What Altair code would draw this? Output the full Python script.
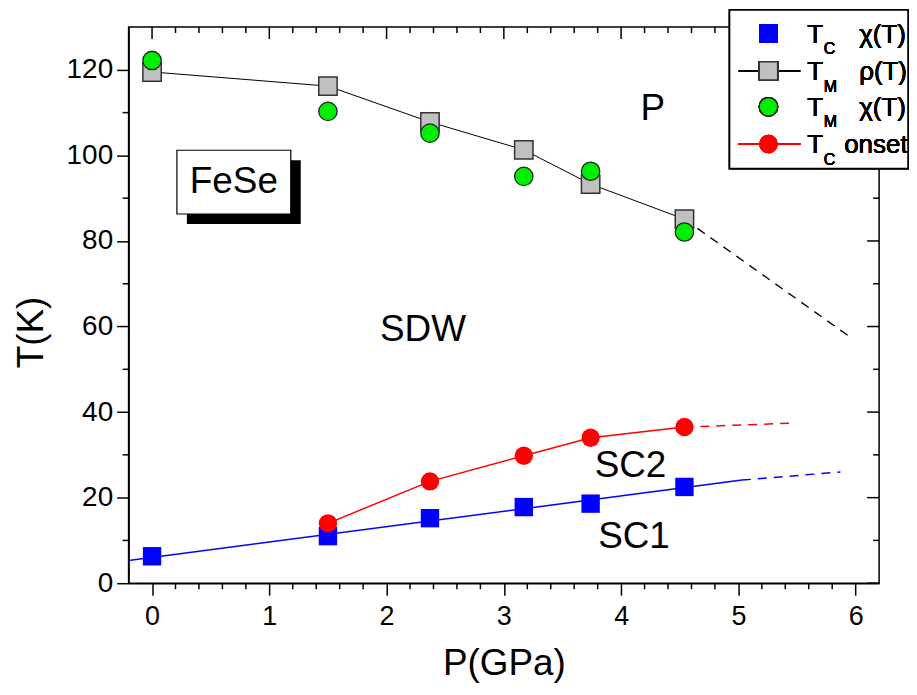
import altair as alt
import pandas as pd

FONT = "Liberation Sans"

# ---------------- data ----------------
# T_M from rho(T): grey squares + black line
P_M = [0.0, 1.50, 2.37, 3.17, 3.74, 4.54]
TM_rho = [119.5, 116.2, 107.8, 101.3, 93.3, 85.1]
# T_M from chi(T): green circles
TM_chi = [122.2, 110.3, 105.2, 95.1, 96.3, 82.1]
# dashed extrapolation of T_M
TM_ext_P = [4.54, 5.98]
TM_ext_T = [85.1, 57.0]

# T_C from chi(T): blue squares
P_TC = [0.0, 1.50, 2.37, 3.17, 3.74, 4.54]
TC_chi = [6.3, 11.0, 15.2, 17.8, 18.6, 22.5]
# blue guide line (solid + dashed)
TC_fit_P = [-0.2, 5.03]
TC_fit_T = [5.3, 24.1]
TC_fit_ext_P = [5.03, 5.87]
TC_fit_ext_T = [24.1, 26.0]

# T_C onset: red circles
P_on = [1.50, 2.37, 3.17, 3.74, 4.54]
TC_onset = [14.0, 23.8, 29.8, 34.0, 36.5]
TC_on_ext_P = [4.54, 5.44]
TC_on_ext_T = [36.5, 37.4]

# region labels
region_labels = ["P", "SDW", "SC2", "SC1"]
region_P = [4.27, 2.31, 4.08, 4.11]
region_T = [110.9, 59.2, 27.4, 10.9]

# FeSe label box (data units)
fese_P = [0.212, 1.183]
fese_T = [86.3, 101.2]

# axis ticks
x_major = [0, 1, 2, 3, 4, 5, 6]
y_major = [0, 20, 40, 60, 80, 100, 120]
x_minor = [round(-0.2 + 0.2 * k, 1) for k in range(1, 32) if round((-0.2 + 0.2 * k), 1) % 1 != 0]
y_minor = [10, 30, 50, 70, 90, 110]

W, H = 753, 558

xs = alt.Scale(domain=[-0.2, 6.2], nice=False, zero=False)
ys = alt.Scale(domain=[0, 130], nice=False, zero=False)

xaxis = alt.Axis(values=x_major, title="P(GPa)", grid=False, tickSize=12, tickWidth=1.5,
                 tickColor="black", domainColor="black", domainWidth=1.5,
                 labelFontSize=27, labelFont=FONT, labelColor="black", labelPadding=8,
                 labelFlush=False, labelOverlap=False,
                 titleFontSize=37, titleFont=FONT, titleFontWeight="normal", titleColor="black",
                 titleX=W / 2, titleY=81, titleBaseline="middle", titleAlign="center")
yaxis = alt.Axis(values=y_major, title="T(K)", grid=False, tickSize=12, tickWidth=1.5,
                 tickColor="black", domainColor="black", domainWidth=1.5,
                 labelFontSize=28, labelFont=FONT, labelColor="black", labelPadding=4,
                 labelFlush=False, labelOverlap=False,
                 titleFontSize=37, titleFont=FONT, titleFontWeight="normal", titleColor="black",
                 titleAngle=270, titleX=-97, titleY=306, titleBaseline="middle", titleAlign="center")


def X(f="P"):
    return alt.X(f + ":Q", scale=xs, axis=xaxis)


def Y(f="T"):
    return alt.Y(f + ":Q", scale=ys, axis=yaxis)


def df(p, t):
    return pd.DataFrame({"P": p, "T": t})


layers = []

# --- minor / mirrored ticks ---
dx_min = pd.DataFrame({"P": x_minor})
dx_maj = pd.DataFrame({"P": x_major})
dy_min = pd.DataFrame({"T": y_minor})
dy_maj = pd.DataFrame({"T": y_major})
rule = dict(color="black", strokeWidth=1.5)
layers.append(alt.Chart(dx_min).mark_rule(**rule).encode(x=X(), y=alt.value(H), y2=alt.value(H + 6)))
layers.append(alt.Chart(dx_min).mark_rule(**rule).encode(x=X(), y=alt.value(0), y2=alt.value(6)))
layers.append(alt.Chart(dx_maj).mark_rule(**rule).encode(x=X(), y=alt.value(0), y2=alt.value(12)))
layers.append(alt.Chart(dy_min).mark_rule(**rule).encode(y=Y(), x=alt.value(0), x2=alt.value(-6)))
layers.append(alt.Chart(dy_min).mark_rule(**rule).encode(y=Y(), x=alt.value(W), x2=alt.value(W - 6)))
layers.append(alt.Chart(dy_maj).mark_rule(**rule).encode(y=Y(), x=alt.value(W), x2=alt.value(W - 12)))

# --- FeSe box with shadow ---
fese = pd.DataFrame({"P": [fese_P[0]], "P2": [fese_P[1]], "T": [fese_T[0]], "T2": [fese_T[1]]})
layers.append(alt.Chart(fese).mark_rect(fill="black", xOffset=10, x2Offset=10, yOffset=10, y2Offset=10)
              .encode(x=X(), x2="P2:Q", y=Y(), y2="T2:Q"))
layers.append(alt.Chart(fese).mark_rect(fill="white", stroke="black", strokeWidth=1.2)
              .encode(x=X(), x2="P2:Q", y=Y(), y2="T2:Q"))
fese_txt = pd.DataFrame({"P": [sum(fese_P) / 2], "T": [sum(fese_T) / 2], "label": ["FeSe"]})
layers.append(alt.Chart(fese_txt).mark_text(font=FONT, fontSize=37, color="black", baseline="middle")
              .encode(x=X(), y=Y(), text="label:N"))

# --- lines ---
layers.append(alt.Chart(df(P_M, TM_rho)).mark_line(color="black", strokeWidth=1).encode(x=X(), y=Y()))
layers.append(alt.Chart(df(TM_ext_P, TM_ext_T)).mark_line(color="black", strokeWidth=1.3, strokeDash=[9, 7])
              .encode(x=X(), y=Y()))
layers.append(alt.Chart(df(TC_fit_P, TC_fit_T)).mark_line(color="#0000ff", strokeWidth=1.5).encode(x=X(), y=Y()))
layers.append(alt.Chart(df(TC_fit_ext_P, TC_fit_ext_T)).mark_line(color="#0000ff", strokeWidth=1.5, strokeDash=[9, 7])
              .encode(x=X(), y=Y()))
layers.append(alt.Chart(df(P_on, TC_onset)).mark_line(color="#ff0000", strokeWidth=1.5).encode(x=X(), y=Y()))
layers.append(alt.Chart(df(TC_on_ext_P, TC_on_ext_T)).mark_line(color="#ff0000", strokeWidth=1.5, strokeDash=[9, 7])
              .encode(x=X(), y=Y()))

# --- symbols ---
SQ = 340
CI = 340
layers.append(alt.Chart(df(P_TC, TC_chi)).mark_square(size=SQ, fill="#0000ff", opacity=1, strokeWidth=0)
              .encode(x=X(), y=Y()))
layers.append(alt.Chart(df(P_M, TM_rho)).mark_square(size=SQ, fill="#c0c0c0", stroke="#333333", strokeWidth=1.5, opacity=1)
              .encode(x=X(), y=Y()))
layers.append(alt.Chart(df(P_M, TM_chi)).mark_circle(size=CI, fill="#00ee00", stroke="#222222", strokeWidth=1.3, opacity=1)
              .encode(x=X(), y=Y()))
layers.append(alt.Chart(df(P_on, TC_onset)).mark_circle(size=CI, fill="#ff0000", opacity=1, strokeWidth=0)
              .encode(x=X(), y=Y()))

# --- region labels ---
reg = pd.DataFrame({"P": region_P, "T": region_T, "label": region_labels})
layers.append(alt.Chart(reg).mark_text(font=FONT, fontSize=37, color="black", baseline="middle")
              .encode(x=X(), y=Y(), text="label:N"))

# --- legend (custom, pixel placed) ---
LX0, LX1 = 603, 782
layers.append(alt.Chart(dx_maj).mark_rect(fill="white", stroke="black", strokeWidth=1.5)
              .encode(x=alt.value(LX0), x2=alt.value(LX1), y=alt.value(-17), y2=alt.value(142)))
sym_x = 642
rows_c = [6.3, 44.0, 80.0, 117.3]
rows_b = [15.7, 53.3, 89.0, 126.7]
layers.append(alt.Chart(dx_maj).mark_rule(color="black", strokeWidth=1)
              .encode(x=alt.value(612), x2=alt.value(674), y=alt.value(rows_c[1])))
layers.append(alt.Chart(dx_maj).mark_rule(color="#ff0000", strokeWidth=1.5)
              .encode(x=alt.value(612), x2=alt.value(674), y=alt.value(rows_c[3])))
layers.append(alt.Chart(dx_maj).mark_square(size=SQ, fill="#0000ff", opacity=1, strokeWidth=0)
              .encode(x=alt.value(sym_x), y=alt.value(rows_c[0])))
layers.append(alt.Chart(dx_maj).mark_square(size=SQ, fill="#c0c0c0", stroke="#333333", strokeWidth=1.5, opacity=1)
              .encode(x=alt.value(sym_x), y=alt.value(rows_c[1])))
layers.append(alt.Chart(dx_maj).mark_circle(size=CI, fill="#00ee00", stroke="#222222", strokeWidth=1.3, opacity=1)
              .encode(x=alt.value(sym_x), y=alt.value(rows_c[2])))
layers.append(alt.Chart(dx_maj).mark_circle(size=CI, fill="#ff0000", opacity=1, strokeWidth=0)
              .encode(x=alt.value(sym_x), y=alt.value(rows_c[3])))

leg_main = ["T", "T", "T", "T"]
leg_sub = ["C", "M", "M", "C"]
leg_rest = ["\u03c7(T)", "\u03c1(T)", "\u03c7(T)", "onset"]
leg_rest_x = [733, 733, 733, 718]


def txt(x, y, s, size):
    return (alt.Chart(dx_maj).mark_text(font=FONT, fontSize=size, color="black", align="left",
                                        baseline="alphabetic", text=s)
            .encode(x=alt.value(x), y=alt.value(y)))


for i in range(4):
    layers.append(txt(681, rows_b[i], leg_main[i], 26))
    layers.append(txt(697.5, rows_b[i] + 11.5, leg_sub[i], 16))
    layers.append(txt(leg_rest_x[i], rows_b[i], leg_rest[i], 26))

chart = alt.layer(*layers).properties(
    width=W, height=H,
    padding={"left": 121, "top": 18, "right": 30, "bottom": 100},
    autosize=alt.AutoSizeParams(type="none"),
    background="white",
).configure_view(stroke="black", strokeWidth=1.5)

chart.save("out.html", embed_options={"renderer": "svg", "actions": False})
